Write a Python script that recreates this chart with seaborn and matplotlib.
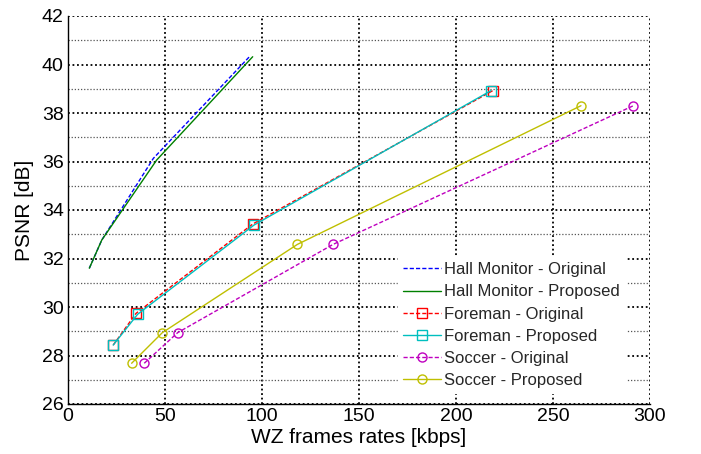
import matplotlib
matplotlib.use("Agg")
import matplotlib.pyplot as plt
import seaborn as sns
import pandas as pd
from matplotlib.ticker import MultipleLocator

sns.set_theme(style="white")
plt.rcParams['font.family'] = ['Liberation Sans', 'DejaVu Sans']

# Data
hall_orig_x = [11.0, 17.4, 44.0, 93.5]
hall_orig_y = [31.6, 32.76, 36.13, 40.32]
hall_prop_x = [11.0, 17.4, 45.7, 95.2]
hall_prop_y = [31.6, 32.76, 36.06, 40.32]
fore_orig_x = [23.3, 35.1, 95.2, 218.9]
fore_orig_y = [28.43, 29.74, 33.42, 38.92]
fore_prop_x = [23.3, 35.9, 95.9, 218.0]
fore_prop_y = [28.43, 29.70, 33.38, 38.92]
socc_orig_x = [39.3, 56.5, 136.6, 291.4]
socc_orig_y = [27.68, 28.94, 32.58, 38.30]
socc_prop_x = [32.8, 48.6, 118.2, 264.4]
socc_prop_y = [27.68, 28.94, 32.58, 38.30]

labels = ["Hall Monitor - Original", "Hall Monitor - Proposed",
          "Foreman - Original", "Foreman - Proposed",
          "Soccer - Original", "Soccer - Proposed"]
xs = [hall_orig_x, hall_prop_x, fore_orig_x, fore_prop_x, socc_orig_x, socc_prop_x]
ys = [hall_orig_y, hall_prop_y, fore_orig_y, fore_prop_y, socc_orig_y, socc_prop_y]

colors = [(0, 0, 1), (0, 0.5, 0), (1, 0, 0), (0, 0.75, 0.75), (0.75, 0, 0.75), (0.75, 0.75, 0)]
styles = [(0, (3, 1.5)), '-', (0, (3, 1.5)), '-', (0, (3, 1.5)), '-']
markers = [None, None, 's', 's', 'o', 'o']

fig = plt.figure(figsize=(7.01, 4.54), dpi=100)
ax = fig.add_axes([68 / 701, 1 - 404 / 454, (650 - 68) / 701, (404 - 16) / 454])

for lab, x, y, c, ls, m in zip(labels, xs, ys, colors, styles, markers):
    df = pd.DataFrame({"x": x, "y": y})
    kw = dict(marker=m, markersize=6.5, markerfacecolor='none', markeredgecolor=c,
              markeredgewidth=1.0) if m else {}
    sns.lineplot(data=df, x="x", y="y", ax=ax, color=c, linestyle=ls, linewidth=1.0,
                 sort=False, estimator=None, label=lab, **kw)

ax.set_xlim(0, 300)
ax.set_ylim(26, 42)
ax.xaxis.set_major_locator(MultipleLocator(50))
ax.yaxis.set_major_locator(MultipleLocator(2))
ax.yaxis.set_minor_locator(MultipleLocator(1))

ax.grid(True, which='major', axis='both', color='black', linestyle=(0, (1, 1.5)), linewidth=1.3)
ax.grid(True, which='minor', axis='y', color='#555555', linestyle=(0, (1, 1.5)), linewidth=0.9)
ax.set_axisbelow(True)

for s in ['top', 'right']:
    ax.spines[s].set_visible(False)
for s in ['left', 'bottom']:
    ax.spines[s].set_color('black')
    ax.spines[s].set_linewidth(1.0)

ax.tick_params(axis='both', which='major', direction='in', length=4, width=0.8,
               labelsize=14, colors='black', pad=3)
ax.tick_params(axis='y', which='minor', length=0)

ax.set_xlabel("WZ frames rates [kbps]", fontsize=15, color='black', labelpad=2)
ax.set_ylabel("PSNR [dB]", fontsize=15, color='black', labelpad=6)

leg = ax.legend(loc='lower right', bbox_to_anchor=((625 - 68) / 582, (404 - 393) / 388),
                frameon=True, fontsize=12, handlelength=2.3, handletextpad=0.2,
                labelspacing=0.43, borderpad=0.3, borderaxespad=0, fancybox=False)
leg.get_frame().set_facecolor('white')
leg.get_frame().set_edgecolor('white')
leg.get_frame().set_alpha(1.0)

fig.savefig("out.png", dpi=100)
